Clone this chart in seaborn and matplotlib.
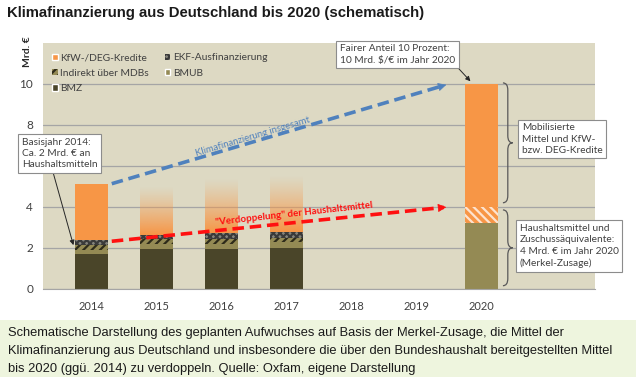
import numpy as np
import seaborn as sns
import matplotlib.pyplot as plt
import matplotlib.colors as mcolors
from matplotlib.patches import Patch, Rectangle, PathPatch
from matplotlib.path import Path

# Werte (Mrd. €), geschätzt aus der Vorlage
years = ["2014", "2015", "2016", "2017", "2018", "2019", "2020"]
bmz = [1.68, 1.93, 1.94, 2.00, 0, 0, 0]
bmub = [0.20, 0.27, 0.27, 0.29, 0, 0, 3.22]
mdb = [0.25, 0.22, 0.21, 0.17, 0, 0, 0]
ekf = [0.24, 0.22, 0.31, 0.29, 0, 0, 0]
kfw_grant = [0, 0, 0, 0, 0, 0, 0.78]
kfw = [2.76, 0, 0, 0, 0, 0, 6.0]
kfw_fade = [0, 2.36, 2.64, 2.78, 0, 0, 0]  # schematisch, verblassend
ytick_labels = ["0", "2", "4", "", "8", "10"]  # "6" liegt hinter dem Kasten

ORANGE = "#F79646"
BMZ_C = "#4A4529"
BMUB_C = "#948A54"
EKF_C = "#85847C"
BG = "#DDD9C3"
BLUE = "#4F81BD"
RED = "#FF1010"
TXT = "#404040"

sns.set_style("white")
plt.rcParams["font.family"] = ["Lato", "DejaVu Sans"]
plt.rcParams["hatch.linewidth"] = 1.6

fig, ax = plt.subplots(figsize=(6.4, 3.77), dpi=100)
fig.subplots_adjust(left=0.067, right=0.93, bottom=0.234, top=0.886)
ax.set_facecolor(BG)

# gestapelte Balken
layers = [
    (bmz, dict(color=BMZ_C)),
    (bmub, dict(color=BMUB_C)),
    (mdb, dict(color=BMUB_C, hatch="////", edgecolor="#2E2B1A")),
    (ekf, dict(color=EKF_C, hatch="xxxxx", edgecolor="#3A3A3A")),
    (kfw_grant, dict(color=ORANGE, hatch="\\\\\\\\", edgecolor="#FDE3CF")),
    (kfw, dict(color=ORANGE)),
]
bottom = np.zeros(len(years))
budget = None
for i, (vals, style) in enumerate(layers):
    sns.barplot(x=years, y=vals, order=years, bottom=bottom.copy(), width=0.5,
                errorbar=None, saturation=1, linewidth=0, ax=ax, **style)
    bottom += np.array(vals)
    if i == 4:
        budget = bottom.copy()
total = bottom.copy()

# verblassende Balken 2015-2017
grad = np.zeros((120, 1, 4))
grad[..., :3] = mcolors.to_rgb(ORANGE)
grad[:, 0, 3] = np.linspace(1.0, 0.0, 120) ** 1.2
for i, h in enumerate(kfw_fade):
    if h > 0:
        b = total[i]
        ax.imshow(grad, extent=(i - 0.25, i + 0.25, b, b + h), origin="lower",
                  aspect="auto", interpolation="bilinear", zorder=2)

ax.set_xlim(-0.75, 7.75)
ax.set_ylim(0, 12)
ax.set_yticks(range(0, 11, 2))
ax.set_yticklabels(ytick_labels)
ax.yaxis.grid(True, color="#A5A5A5", lw=0.9)
ax.set_axisbelow(True)
for s in ["top", "right", "left"]:
    ax.spines[s].set_visible(False)
ax.spines["bottom"].set_color("#A5A5A5")
ax.tick_params(axis="x", length=0, labelsize=8, labelcolor=TXT, pad=9)
ax.tick_params(axis="y", length=4, color="#A5A5A5", labelsize=8.5, labelcolor=TXT, pad=3)
ax.set_xlabel("")
ax.set_ylabel("")

# Legende
handles = [
    Patch(facecolor=ORANGE, label="KfW-/DEG-Kredite"),
    Patch(facecolor=BMUB_C, hatch="////", edgecolor="#2E2B1A", lw=0, label="Indirekt über MDBs"),
    Patch(facecolor=BMZ_C, label="BMZ"),
    Patch(facecolor=EKF_C, hatch="xxxxx", edgecolor="#3A3A3A", lw=0, label="EKF-Ausfinanzierung"),
    Patch(facecolor=BMUB_C, label="BMUB"),
]
ax.legend(handles=handles, ncol=2, loc="upper left", bbox_to_anchor=(0.0, 0.995),
          frameon=False, fontsize=7.4, handlelength=0.55, handleheight=0.55,
          handletextpad=0.25, columnspacing=1.5, labelspacing=0.62,
          labelcolor=TXT)

# Pfeile
x0, x1 = 0.31, 5.5
for y0, y1, col in [(total[0], total[6], BLUE), (budget[0] - 0.05, budget[6], RED)]:
    ax.plot([x0, x1 - 0.08], [y0, y1 - (y1 - y0) * 0.08 / (x1 - x0)], color=col, lw=2.6,
            dashes=(3.2, 1.6), solid_capstyle="butt", zorder=4)
    ax.annotate("", xy=(x1, y1), xytext=(x1 - 0.2, y1 - (y1 - y0) * 0.2 / (x1 - x0)),
                arrowprops=dict(arrowstyle="-|>", color=col, lw=0.5, mutation_scale=13),
                zorder=4)

ax.text(2.48, 7.42, "Klimafinanzierung insgesamt", color=BLUE, fontsize=6.8,
        rotation=16.6, ha="center", va="center", rotation_mode="anchor", zorder=5)
ax.text(3.11, 3.66, '"Verdoppelung" der Haushaltsmittel', color=RED, fontsize=7,
        fontweight="bold", rotation=6.3, ha="center", va="center", rotation_mode="anchor", zorder=5)


# geschweifte Klammern
def brace(ax, x, y0, y1, w):
    ym = (y0 + y1) / 2
    r = min(0.35, (y1 - y0) / 4)
    xm = x + w / 2
    verts = [(x, y1), (xm, y1), (xm, y1 - r), (xm, ym + r), (xm, ym), (x + w, ym),
             (xm, ym), (xm, ym - r), (xm, y0 + r), (xm, y0), (x, y0)]
    codes = [Path.MOVETO, Path.CURVE3, Path.CURVE3, Path.LINETO, Path.CURVE3, Path.CURVE3,
             Path.CURVE3, Path.CURVE3, Path.LINETO, Path.CURVE3, Path.CURVE3]
    ax.add_patch(PathPatch(Path(verts, codes), fill=False, color="#595959", lw=0.9,
                           clip_on=False, zorder=5))


brace(ax, 6.33, budget[6] + 0.2, total[6] + 0.05, 0.15)
brace(ax, 6.33, 0.15, budget[6] - 0.15, 0.15)

box = dict(boxstyle="square,pad=0.35", facecolor="white", edgecolor="#8C8C8C", lw=0.8)
H = 377

ax.annotate("Basisjahr 2014:\nCa. 2 Mrd. € an\nHaushaltsmitteln", xy=(-0.28, 2.13),
            xytext=(22, H - 153.5), textcoords="figure pixels", ha="left", va="center",
            fontsize=7.3, color=TXT, bbox=box, linespacing=1.35, zorder=6,
            arrowprops=dict(arrowstyle="-|>", color="#262626", lw=0.7, mutation_scale=7,
                            relpos=(0.4, 0), shrinkA=0, shrinkB=0))
ax.annotate("Fairer Anteil 10 Prozent:\n10 Mrd. $/€ im Jahr 2020", xy=(5.83, 10.13),
            xytext=(340, H - 54.5), textcoords="figure pixels", ha="left", va="center",
            fontsize=7.3, color=TXT, bbox=box, linespacing=1.35, zorder=6,
            arrowprops=dict(arrowstyle="-|>", color="#262626", lw=0.7, mutation_scale=7,
                            relpos=(1.0, 0), shrinkA=0, shrinkB=0))
ax.annotate("Mobilisierte\nMittel und KfW-\nbzw. DEG-Kredite", xy=(0, 0), xycoords="figure pixels",
            xytext=(522, H - 139), textcoords="figure pixels", ha="left", va="center",
            fontsize=7.3, color=TXT, bbox=box, linespacing=1.35, zorder=6, annotation_clip=False)
ax.annotate("Haushaltsmittel und\nZuschussäquivalente:\n4 Mrd. € im Jahr 2020\n(Merkel-Zusage)",
            xy=(0, 0), xycoords="figure pixels",
            xytext=(520, H - 246), textcoords="figure pixels", ha="left", va="center",
            fontsize=7.3, color=TXT, bbox=box, linespacing=1.35, zorder=6, annotation_clip=False)

# Titel, Achsenbeschriftung, Bildunterschrift
fig.text(7 / 640, 1 - 12.5 / H, "Klimafinanzierung aus Deutschland bis 2020 (schematisch)",
         fontsize=10.7, fontweight="bold", va="center", ha="left",
         family=["Liberation Sans", "DejaVu Sans"], color="#1A1A1A")
fig.text(28 / 640, 1 - 52 / H, "Mrd. €", rotation=90, fontsize=7.5, fontweight="bold",
         va="center", ha="center", color="#262626")

fig.patches.append(Rectangle((0, 0), 636 / 640, 57 / H, transform=fig.transFigure,
                             facecolor="#EEF5DE", edgecolor="none", zorder=0))
caption = [
    "Schematische Darstellung des geplanten Aufwuchses auf Basis der Merkel-Zusage, die Mittel der",
    "Klimafinanzierung aus Deutschland und insbesondere die über den Bundeshaushalt bereitgestellten Mittel",
    "bis 2020 (ggü. 2014) zu verdoppeln. Quelle: Oxfam, eigene Darstellung",
]
for k, line in enumerate(caption):
    fig.text(8 / 640, 1 - (333 + 18 * k) / H, line, fontsize=9.3, va="center", ha="left",
             family=["Liberation Sans", "DejaVu Sans"], color="#1A1A1A")

fig.savefig("out.png", dpi=100)
